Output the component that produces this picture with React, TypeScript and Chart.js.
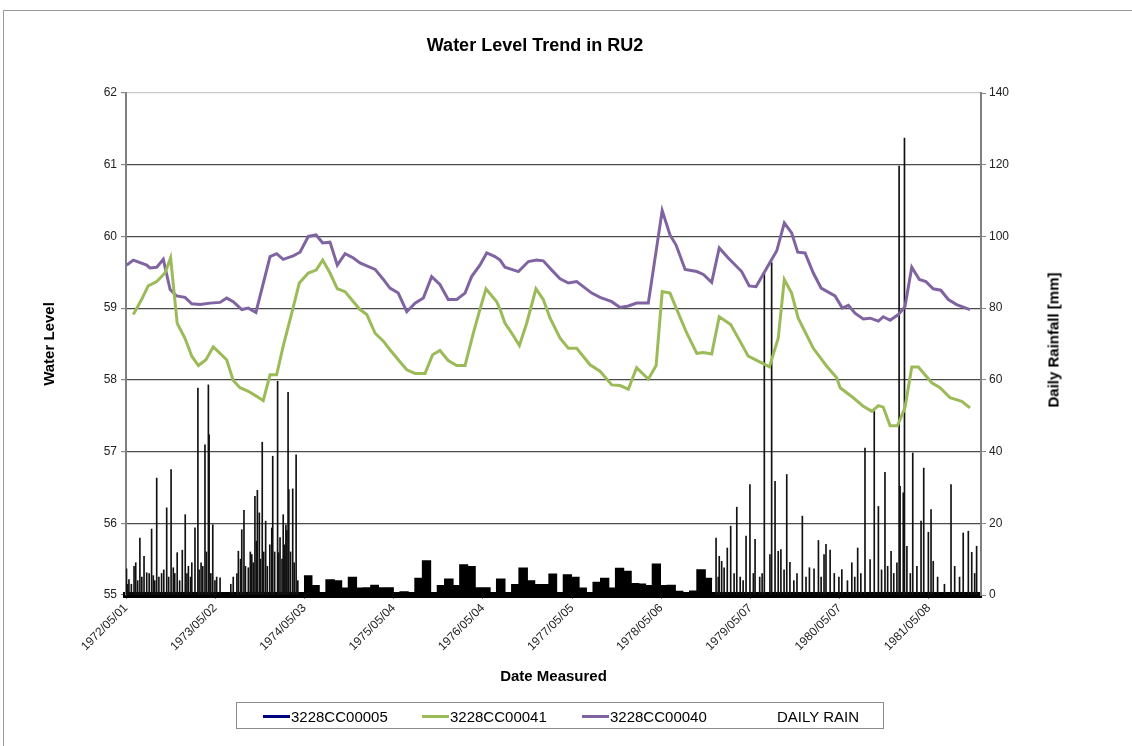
import React, { useEffect, useRef } from 'react';
import { Chart, registerables } from 'chart.js';

Chart.register(...registerables);

const FONT = '"Liberation Sans", Arial, sans-serif';
const BASE_UTC = Date.UTC(1972, 4, 1);
const X_MAX_DAYS = 3508;

// x-axis tick labels (dates)
const xTickLabels = [
  '1972/05/01', '1973/05/02', '1974/05/03', '1975/05/04', '1976/05/04',
  '1977/05/05', '1978/05/06', '1979/05/07', '1980/05/07', '1981/05/08',
];

// 3228CC00040 (purple): days since 1972/05/01 and water level
const purpleDays = [
  3, 30, 85, 98, 126, 153, 181, 208, 242, 270, 304, 345, 386, 413, 440, 475, 502, 533,
  591, 618, 645, 686, 714, 748, 780, 807, 837, 867, 899, 933, 960, 988, 1022, 1056, 1083,
  1117, 1152, 1186, 1220, 1254, 1288, 1322, 1357, 1391, 1418, 1452, 1480, 1514, 1535, 1555,
  1610, 1651, 1685, 1712, 1747, 1781, 1815, 1849, 1911, 1945, 1993, 2027, 2061, 2095, 2143,
  2200, 2232, 2257, 2294, 2342, 2369, 2403, 2434, 2471, 2526, 2557, 2585, 2629, 2670, 2701,
  2731, 2756, 2786, 2820, 2852, 2909, 2939, 2964, 2991, 3025, 3053, 3087, 3107, 3135, 3169,
  3196, 3224, 3255, 3282, 3312, 3343, 3374, 3408, 3463,
];
const purpleLevels = [
  59.60, 59.67, 59.60, 59.56, 59.57, 59.68, 59.26, 59.17, 59.15, 59.06, 59.05, 59.07, 59.08,
  59.14, 59.09, 58.98, 59.00, 58.94, 59.72, 59.76, 59.68, 59.73, 59.78, 60.00, 60.02, 59.91,
  59.92, 59.60, 59.76, 59.70, 59.63, 59.59, 59.54, 59.40, 59.28, 59.21, 58.95, 59.07, 59.14,
  59.44, 59.33, 59.12, 59.12, 59.21, 59.44, 59.60, 59.77, 59.72, 59.67, 59.57, 59.51, 59.65,
  59.67, 59.66, 59.53, 59.41, 59.35, 59.37, 59.21, 59.15, 59.09, 59.01, 59.03, 59.07, 59.07,
  60.36, 60.02, 59.88, 59.54, 59.51, 59.47, 59.36, 59.84, 59.70, 59.51, 59.31, 59.30, 59.56,
  59.80, 60.19, 60.05, 59.78, 59.77, 59.49, 59.28, 59.17, 59.00, 59.04, 58.93, 58.85, 58.86,
  58.82, 58.88, 58.83, 58.91, 59.02, 59.57, 59.40, 59.37, 59.27, 59.25, 59.12, 59.05, 58.98,
];

// 3228CC00041 (green)
const greenDays = [
  30, 64, 91, 126, 160, 183, 210, 242, 270, 297, 328, 358, 386, 413, 440, 468, 502, 536, 563,
  591, 618, 645, 680, 711, 748, 780, 807, 837, 867, 899, 933, 960, 988, 1022, 1056, 1083,
  1117, 1152, 1186, 1227, 1258, 1288, 1322, 1357, 1391, 1425, 1452, 1477, 1521, 1535, 1555,
  1583, 1614, 1644, 1682, 1712, 1740, 1781, 1815, 1849, 1904, 1945, 1993, 2027, 2061, 2095,
  2143, 2175, 2200, 2232, 2260, 2301, 2342, 2369, 2403, 2434, 2481, 2519, 2553, 2594, 2640,
  2676, 2701, 2731, 2758, 2820, 2875, 2916, 2930, 2984, 3025, 3060, 3087, 3107, 3135, 3165,
  3196, 3224, 3251, 3306, 3340, 3381, 3429, 3463,
];
const greenLevels = [
  58.91, 59.12, 59.31, 59.37, 59.49, 59.70, 58.79, 58.58, 58.33, 58.20, 58.28, 58.46, 58.37,
  58.28, 57.99, 57.89, 57.84, 57.77, 57.71, 58.07, 58.07, 58.47, 58.93, 59.35, 59.49, 59.53,
  59.67, 59.49, 59.27, 59.23, 59.09, 58.98, 58.91, 58.65, 58.54, 58.42, 58.28, 58.14, 58.09,
  58.09, 58.35, 58.41, 58.27, 58.20, 58.20, 58.65, 58.98, 59.27, 59.09, 58.98, 58.79, 58.65,
  58.48, 58.79, 59.27, 59.12, 58.86, 58.58, 58.44, 58.44, 58.21, 58.12, 57.93, 57.92, 57.87,
  58.17, 58.01, 58.20, 59.23, 59.21, 58.98, 58.65, 58.37, 58.38, 58.36, 58.88, 58.77, 58.54,
  58.33, 58.26, 58.18, 58.58, 59.40, 59.21, 58.86, 58.44, 58.19, 58.03, 57.89, 57.75, 57.63,
  57.56, 57.64, 57.62, 57.36, 57.36, 57.61, 58.18, 58.18, 57.96, 57.89, 57.75, 57.70, 57.61,
];

// 3228CC00005 (no values visible in the plot)
const navyDays: number[] = [];
const navyLevels: number[] = [];

// DAILY RAIN: daily spikes (days since 1972/05/01, mm)
const rainDays = [
  2, 7, 12, 22, 33, 40, 48, 57, 65, 74, 85, 95, 105, 112, 118, 126, 135, 146, 155, 167, 175,
  185, 194, 200, 210, 220, 231, 243, 250, 256, 265, 270, 283, 295, 300, 308, 315, 324, 330,
  338, 341, 348, 356, 365, 372, 386, 430, 440, 455, 461, 470, 475, 484, 490, 502, 510, 516,
  522, 529, 535, 539, 547, 552, 559, 565, 573, 580, 590, 598, 602, 610, 622, 626, 632, 640,
  645, 650, 656, 660, 665, 668, 675, 684, 690, 698, 705,
  2421, 2430, 2434, 2444, 2454, 2467, 2481, 2495, 2506, 2520, 2532, 2544, 2560, 2574, 2581,
  2600, 2610, 2619, 2642, 2649, 2663, 2676, 2687, 2700, 2711, 2724, 2740, 2753, 2775, 2790,
  2804, 2823, 2841, 2852, 2864, 2872, 2889, 2906, 2925, 2937, 2960, 2978, 2990, 3002, 3015,
  3032, 3053, 3070, 3087, 3100, 3114, 3125, 3139, 3150, 3163, 3172, 3176, 3189, 3194, 3204,
  3218, 3228, 3245, 3262, 3273, 3292, 3303, 3312, 3330, 3358, 3385, 3400, 3420, 3435, 3456,
  3470, 3482, 3490,
];
const rainMm = [
  7.3, 3, 4.3, 3, 8.0, 9.0, 4, 15.9, 5, 10.8, 6.2, 6, 18.4, 5.4, 4, 32.6, 5, 6.0, 7, 24.3, 5,
  35.0, 7.6, 6, 11.8, 4, 12.5, 22.4, 6, 8.0, 5, 9, 18.7, 57.7, 7, 9.0, 8, 41.9, 12,
  58.6, 44.7, 6, 19.6, 4, 5, 4.8, 3, 5, 6, 12.2, 10, 18.2, 23.6, 8, 7.6, 12, 11.3,
  9, 27.5, 15, 29.2, 22.9, 10, 42.6, 12, 20.6, 8, 14, 18.7, 38.7, 12, 59.6, 11.8, 16, 10,
  22.4, 14, 19.6, 18, 56.5, 29.4, 12, 29.6, 9, 39.1, 4,
  15.9, 5, 10.8, 9.4, 7.6, 13.1, 19.2, 6, 24.5, 5, 4, 16.4, 30.8, 6, 15.5,
  5, 6, 89.8, 11.3, 92.7, 31.7, 12.2, 12.7, 7, 33.6, 9.1, 4, 6, 22.0, 5,
  7.6, 7.3, 15.2, 5, 11.3, 14.1, 12.5, 6, 5, 7.1, 4, 9.0, 5, 13.1, 6,
  41.0, 9.9, 51.2, 24.7, 7, 34.2, 8, 12.2, 6, 9, 119.6, 30.3, 28.5, 127.4, 13.6,
  6, 39.6, 8, 20.6, 35.4, 17.5, 23.8, 9.4, 5, 3, 30.8, 8, 5, 17.3, 17.8,
  11.9, 6, 13.6,
];

// DAILY RAIN recorded as monthly blocks from 1974/05 (mm)
const monthlyRainStart = '1974/05/01';
const monthlyRainMm = [
  5.2, 2.5, 0, 4.1, 3.8, 1.8, 4.8, 1.8, 1.9, 2.6, 1.9, 1.9, 0, 0.8, 0, 4.5, 9.4, 0, 2.5, 4.3,
  2.5, 8.3, 7.8, 1.9, 1.9, 0, 4.3, 0, 2.8, 7.4, 3.8, 2.8, 2.8, 5.7, 0, 5.5, 4.8, 1.8, 0, 3.4,
  4.5, 1.8, 7.3, 6.5, 3.1, 2.9, 2.5, 8.5, 2.5, 2.6, 0.9, 0, 1.0, 6.9, 4.5,
];

function dayOf(y: number, m: number, d: number) {
  return Math.round((Date.UTC(y, m - 1, d) - BASE_UTC) / 86400000);
}
function parseDay(s: string) {
  const [y, m, d] = s.split('/').map(Number);
  return dayOf(y, m, d);
}

const xTickDays = xTickLabels.map(parseDay);

function monthlyPoints() {
  const [y, m] = monthlyRainStart.split('/').map(Number);
  const pts = monthlyRainMm.map((v, i) => ({
    x: Math.round((Date.UTC(y, m - 1 + i, 1) - BASE_UTC) / 86400000),
    y: v,
  }));
  const n = monthlyRainMm.length;
  pts.push({
    x: Math.round((Date.UTC(y, m - 1 + n, 1) - BASE_UTC) / 86400000),
    y: monthlyRainMm[n - 1],
  });
  return pts;
}

const zip = (xs: number[], ys: number[]) => xs.map((x, i) => ({ x, y: ys[i] }));

export default function App() {
  const ref = useRef<HTMLCanvasElement | null>(null);

  useEffect(() => {
    if (!ref.current) return;
    const tickFont = { family: FONT, size: 12 };
    const chart = new Chart(ref.current, {
      type: 'line',
      data: {
        datasets: [
          {
            label: '3228CC00005',
            data: zip(navyDays, navyLevels),
            borderColor: '#000080',
            borderWidth: 3,
            pointRadius: 0,
            yAxisID: 'y',
          },
          {
            label: '3228CC00041',
            data: zip(greenDays, greenLevels),
            borderColor: '#9bbb59',
            borderWidth: 3,
            pointRadius: 0,
            tension: 0,
            yAxisID: 'y',
          },
          {
            label: '3228CC00040',
            data: zip(purpleDays, purpleLevels),
            borderColor: '#8064a2',
            borderWidth: 3,
            pointRadius: 0,
            tension: 0,
            yAxisID: 'y',
          },
          {
            type: 'bar',
            label: 'DAILY RAIN',
            data: zip(rainDays, rainMm),
            backgroundColor: '#111',
            borderWidth: 0,
            barThickness: 1,
            grouped: false,
            yAxisID: 'y2',
          } as any,
          {
            label: 'DAILY RAIN (monthly)',
            data: monthlyPoints(),
            stepped: 'before',
            borderColor: '#000',
            backgroundColor: '#000',
            borderWidth: 2,
            pointRadius: 0,
            fill: 'origin',
            yAxisID: 'y2',
          } as any,
        ],
      },
      options: {
        responsive: false,
        animation: false,
        devicePixelRatio: 1,
        layout: { padding: { left: 41, right: 70, top: 93, bottom: 60 } },
        plugins: {
          legend: { display: false },
          title: { display: false },
          tooltip: { enabled: false },
        },
        scales: {
          x: {
            type: 'linear',
            min: 0,
            max: X_MAX_DAYS,
            offset: false,
            afterBuildTicks: (scale: any) => {
              scale.ticks = xTickDays.map((v) => ({ value: v }));
            },
            afterFit: (scale: any) => {
              scale.height = 91;
            },
            ticks: {
              autoSkip: false,
              minRotation: 45,
              maxRotation: 45,
              color: '#222',
              font: tickFont,
              padding: 2,
              callback: (_v: any, i: number) => xTickLabels[i],
            },
            grid: {
              display: true,
              drawOnChartArea: false,
              drawTicks: true,
              tickLength: 4,
              color: '#888',
              offset: false,
            },
            border: { display: true, color: '#000', width: 6 },
            title: {
              display: true,
              text: 'Date Measured',
              color: '#000',
              font: { family: FONT, size: 15, weight: 'bold' },
              padding: 0,
            },
          },
          y: {
            position: 'left',
            min: 55,
            max: 62,
            afterFit: (scale: any) => {
              scale.width = 85;
            },
            ticks: { stepSize: 1, color: '#222', font: tickFont, padding: 4 },
            grid: {
              color: (ctx: any) => (ctx.tick && ctx.tick.value === 62 ? '#c8c8c8' : '#4a4a4a'),
              lineWidth: 1.2,
              tickLength: 5,
              tickColor: '#888',
            },
            border: { color: '#808080', width: 2 },
            title: {
              display: true,
              text: 'Water Level',
              color: '#000',
              font: { family: FONT, size: 15, weight: 'bold' },
              padding: 0,
            },
          },
          y2: {
            position: 'right',
            min: 0,
            max: 140,
            afterFit: (scale: any) => {
              scale.width = 81;
            },
            ticks: { stepSize: 20, color: '#222', font: tickFont, padding: 3 },
            grid: { drawOnChartArea: false, tickLength: 5, color: '#888' },
            border: { color: '#808080', width: 2 },
          },
        },
      } as any,
    });
    return () => chart.destroy();
  }, []);

  const legendText: React.CSSProperties = {
    position: 'absolute',
    top: 0,
    lineHeight: '27px',
    fontSize: 15,
    color: '#000',
    whiteSpace: 'nowrap',
  };
  const swatch = (color: string, left: number): React.CSSProperties => ({
    position: 'absolute',
    left,
    top: 12,
    width: 27,
    height: 3,
    background: color,
  });

  return (
    <div
      style={{
        position: 'absolute',
        left: 0,
        top: 0,
        width: 1132,
        height: 746,
        background: '#fff',
        fontFamily: FONT,
        overflow: 'hidden',
      }}
    >
      <div
        style={{
          position: 'absolute',
          left: 3,
          top: 10,
          width: 1140,
          height: 760,
          borderLeft: '1px solid #9a9a9a',
          borderTop: '1px solid #9a9a9a',
        }}
      />
      <canvas ref={ref} width={1132} height={746} style={{ position: 'absolute', left: 0, top: 0 }} />
      <div
        style={{
          position: 'absolute',
          left: 0,
          width: 1070,
          top: 34,
          textAlign: 'center',
          fontSize: 18,
          fontWeight: 'bold',
          lineHeight: '22px',
          color: '#000',
        }}
      >
        Water Level Trend in RU2
      </div>
      <div
        style={{
          position: 'absolute',
          left: 1053,
          top: 340,
          transform: 'translate(-50%, -50%) rotate(-90deg)',
          fontSize: 15,
          fontWeight: 'bold',
          whiteSpace: 'nowrap',
          color: '#000',
        }}
      >
        Daily Rainfall [mm]
      </div>
      <div
        style={{
          position: 'absolute',
          left: 236,
          top: 702,
          width: 648,
          height: 27,
          border: '1px solid #8c8c8c',
          boxSizing: 'border-box',
        }}
      >
        <div style={swatch('#000080', 26)} />
        <div style={{ ...legendText, left: 54 }}>3228CC00005</div>
        <div style={swatch('#9bbb59', 185)} />
        <div style={{ ...legendText, left: 213 }}>3228CC00041</div>
        <div style={swatch('#8064a2', 345)} />
        <div style={{ ...legendText, left: 373 }}>3228CC00040</div>
        <div style={{ ...legendText, left: 540 }}>DAILY RAIN</div>
      </div>
    </div>
  );
}
